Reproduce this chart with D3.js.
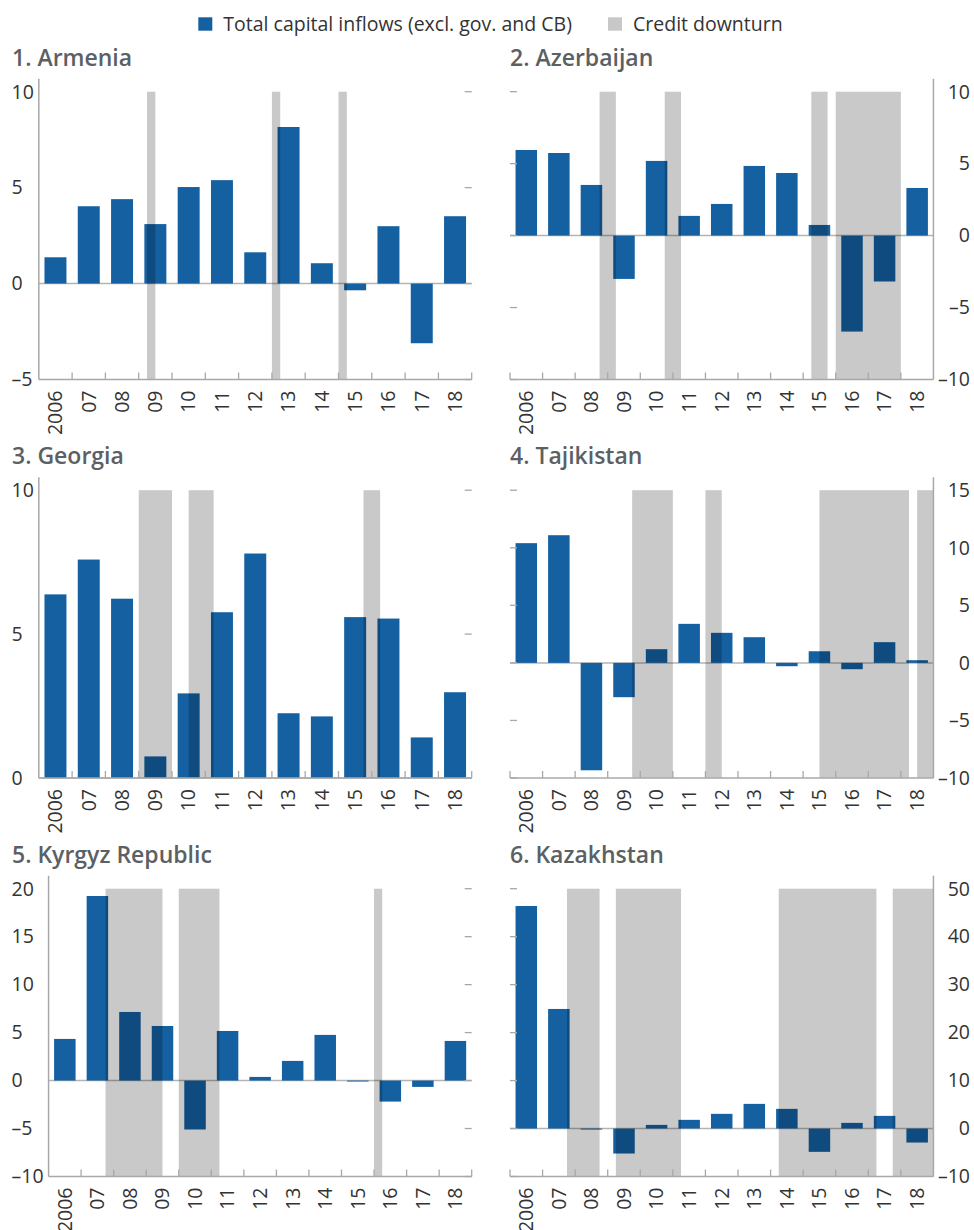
<!DOCTYPE html>
<html>
<head>
<meta charset="utf-8">
<script src="https://cdn.jsdelivr.net/npm/d3@7"></script>
<style>
  body { margin: 0; background: #fff; }
  text { font-family: "Open Sans", sans-serif; }
</style>
</head>
<body>
<div id="chart"></div>
<script>
// categories
const years = ["2006", "07", "08", "09", "10", "11", "12", "13", "14", "15", "16", "17", "18"];

// total capital inflows (excl. gov. and CB)
const armenia = [1.37, 4.03, 4.40, 3.10, 5.03, 5.39, 1.63, 8.16, 1.06, -0.35, 2.99, -3.11, 3.51];
const azerbaijan = [5.95, 5.74, 3.52, -3.01, 5.19, 1.37, 2.20, 4.84, 4.35, 0.74, -6.67, -3.19, 3.31];
const georgia = [6.38, 7.59, 6.23, 0.75, 2.94, 5.76, 7.80, 2.25, 2.14, 5.59, 5.54, 1.41, 2.98];
const tajikistan = [10.40, 11.09, -9.33, -2.98, 1.19, 3.39, 2.61, 2.23, -0.29, 1.01, -0.55, 1.80, 0.23];
const kyrgyz = [4.34, 19.24, 7.15, 5.69, -5.10, 5.17, 0.38, 2.05, 4.76, -0.10, -2.19, -0.66, 4.13];
const kazakhstan = [46.39, 24.93, -0.21, -5.21, 0.76, 1.81, 3.06, 5.14, 4.10, -4.86, 1.18, 2.64, -2.92];

// credit downturn periods (fractional years, quarterly)
const armeniaDown = [[2009.25, 2009.5], [2013, 2013.25], [2015, 2015.25]];
const azerbaijanDown = [[2008.75, 2009.25], [2010.75, 2011.25], [2015.25, 2015.75], [2016, 2018]];
const georgiaDown = [[2009, 2010], [2010.5, 2011.25], [2015.75, 2016.25]];
const tajikistanDown = [[2009.75, 2011], [2012, 2012.5], [2015.5, 2018.25], [2018.5, 2019]];
const kyrgyzDown = [[2007.75, 2009.5], [2010, 2011.25], [2016, 2016.25]];
const kazakhstanDown = [[2007.75, 2008.75], [2009.25, 2011.25], [2014.25, 2017.25], [2017.75, 2019]];

// y tick labels
const armeniaTicks = [-5, 0, 5, 10];
const azerbaijanTicks = [-10, -5, 0, 5, 10];
const georgiaTicks = [0, 5, 10];
const tajikistanTicks = [-10, -5, 0, 5, 10, 15];
const kyrgyzTicks = [-10, -5, 0, 5, 10, 15, 20];
const kazakhstanTicks = [-10, 0, 10, 20, 30, 40, 50];

const titles = ["1. Armenia", "2. Azerbaijan", "3. Georgia", "4. Tajikistan", "5. Kyrgyz Republic", "6. Kazakhstan"];
const legendLabels = ["Total capital inflows (excl. gov. and CB)", "Credit downturn"];

const panels = [
  { values: armenia, down: armeniaDown, ticks: armeniaTicks },
  { values: azerbaijan, down: azerbaijanDown, ticks: azerbaijanTicks },
  { values: georgia, down: georgiaDown, ticks: georgiaTicks },
  { values: tajikistan, down: tajikistanDown, ticks: tajikistanTicks },
  { values: kyrgyz, down: kyrgyzDown, ticks: kyrgyzTicks },
  { values: kazakhstan, down: kazakhstanDown, ticks: kazakhstanTicks }
];

const width = 974, height = 1230;
const barColor = "#1460a0";
const axisColor = "#a8a8a8";
const shade = "rgba(0,0,0,0.21)";

const svg = d3.select("#chart").append("svg")
  .attr("width", width)
  .attr("height", height);

// legend
svg.append("rect").attr("x", 198.3).attr("y", 17.3).attr("width", 14).attr("height", 13.4).attr("fill", barColor);
svg.append("text").attr("x", 223.3).attr("y", 30.7).attr("fill", "#333").style("font-size", "19.5px").text(legendLabels[0]);
svg.append("rect").attr("x", 608).attr("y", 17.3).attr("width", 14).attr("height", 13.4).attr("fill", "#c8c8c8");
svg.append("text").attr("x", 633).attr("y", 30.7).attr("fill", "#333").style("font-size", "19.5px").text(legendLabels[1]);

const fmt = d => d < 0 ? "\u2013" + Math.abs(d) : String(d);

panels.forEach((p, i) => {
  const col = i % 2, row = Math.floor(i / 2);
  const top = 91.7 + row * 398.5;
  const bottom = top + 287.8;
  const g = svg.append("g");

  const y = d3.scaleLinear().domain(d3.extent(p.ticks)).range([bottom, top]);

  // y labels (left column: left side, right column: right side)
  const ylab = g.selectAll(".ylab").data(p.ticks).join("text")
    .attr("class", "ylab")
    .attr("x", col === 0 ? 11.5 : 970)
    .attr("y", d => y(d))
    .attr("dy", "0.35em")
    .attr("text-anchor", col === 0 ? "start" : "end")
    .attr("fill", "#333")
    .style("font-size", "19.5px")
    .text(fmt);
  const maxW = d3.max(ylab.nodes(), n => n.getComputedTextLength());

  const x0 = col === 0 ? 11.5 + maxW + 5 : 510;
  const x1 = col === 0 ? 471.7 : 970 - maxW - 4.5;

  const x = d3.scaleBand().domain(years).range([x0, x1]).paddingInner(0.34).paddingOuter(0.17);
  const t = d3.scaleLinear().domain([2006, 2019]).range([x0, x1]);

  // zero line
  g.append("line")
    .attr("x1", x0).attr("x2", x1)
    .attr("y1", y(0)).attr("y2", y(0))
    .attr("stroke", "#b4b4b4").attr("stroke-width", 1.5);

  // bars
  g.selectAll(".bar").data(p.values).join("rect")
    .attr("class", "bar")
    .attr("x", (d, j) => x(years[j]))
    .attr("width", x.bandwidth())
    .attr("y", d => y(Math.max(0, d)))
    .attr("height", d => Math.abs(y(d) - y(0)))
    .attr("fill", barColor);

  // credit downturn shading
  g.selectAll(".down").data(p.down).join("rect")
    .attr("class", "down")
    .attr("x", d => t(d[0]))
    .attr("width", d => t(d[1]) - t(d[0]))
    .attr("y", top)
    .attr("height", bottom - top)
    .attr("fill", shade);

  // axis lines
  const ax = col === 0 ? x0 : x1;
  g.append("line").attr("x1", ax).attr("x2", ax).attr("y1", top - 13).attr("y2", bottom)
    .attr("stroke", axisColor).attr("stroke-width", 1.5);
  g.append("line").attr("x1", x0).attr("x2", x1).attr("y1", bottom).attr("y2", bottom)
    .attr("stroke", axisColor).attr("stroke-width", 1.5);

  // small ticks on the side without labels
  const ox = col === 0 ? x1 : x0;
  const dir = col === 0 ? -1 : 1;
  g.selectAll(".otick").data(p.ticks).join("line")
    .attr("class", "otick")
    .attr("x1", ox).attr("x2", ox + dir * 7)
    .attr("y1", d => y(d)).attr("y2", d => y(d))
    .attr("stroke", axisColor).attr("stroke-width", 1.3);

  // x ticks at year boundaries
  const bounds = d3.range(2006, 2020).filter(v => t(v) !== ax);
  g.selectAll(".xtick").data(bounds).join("line")
    .attr("class", "xtick")
    .attr("x1", d => t(d)).attr("x2", d => t(d))
    .attr("y1", bottom).attr("y2", bottom - 7)
    .attr("stroke", axisColor).attr("stroke-width", 1.3);

  // x labels
  g.selectAll(".xlab").data(years).join("text")
    .attr("class", "xlab")
    .attr("transform", d => `translate(${x(d) + x.bandwidth() / 2},${bottom + 11}) rotate(-90)`)
    .attr("dy", "0.35em")
    .attr("text-anchor", "end")
    .attr("fill", "#333")
    .style("font-size", "19.5px")
    .text(d => d);

  // title
  g.append("text")
    .attr("x", col === 0 ? 12 : 510)
    .attr("y", top - 26)
    .attr("fill", "#5b6065")
    .style("font-size", "23px")
    .style("font-weight", 600)
    .text(titles[i]);
});
</script>
</body>
</html>
